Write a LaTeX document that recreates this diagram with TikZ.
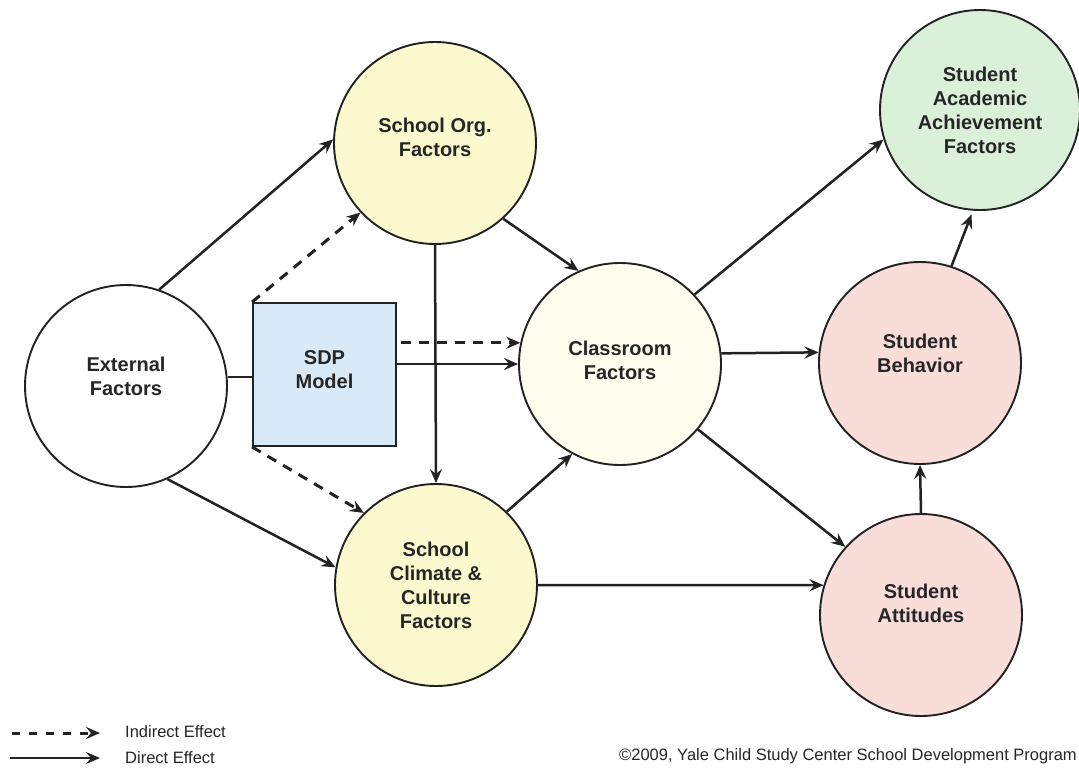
\documentclass[tikz,border=0pt]{standalone}
\usepackage{fontspec}
\setmainfont{Liberation Sans}
\usetikzlibrary{arrows.meta}
\definecolor{linec}{HTML}{222222}
\definecolor{textc}{HTML}{262626}
\definecolor{yelc}{HTML}{FCF9CF}
\definecolor{paleyc}{HTML}{FEFDEE}
\definecolor{greenc}{HTML}{DAF0D9}
\definecolor{pinkc}{HTML}{F8DDD9}
\definecolor{bluec}{HTML}{D8EAF7}
\tikzset{
  circ/.style={circle, draw=linec, line width=1.9pt, minimum size=202pt, inner sep=0pt,
    align=center, font=\fontsize{20}{24}\selectfont\bfseries, text=textc},
  sdpbox/.style={rectangle, draw=linec, line width=1.9pt, fill=bluec, minimum width=143pt,
    minimum height=143pt, inner sep=0pt, align=center,
    font=\fontsize{20}{24}\selectfont\bfseries, text=textc},
  arr/.style={-{Stealth[length=14pt,width=12pt,inset=5pt]}, line width=2.5pt, draw=linec},
  darr/.style={arr, dash pattern=on 10pt off 8pt, line width=3pt},
  plain/.style={line width=2.2pt, draw=linec},
  legtext/.style={anchor=west, font=\fontsize{16.5}{19}\selectfont, text=textc, inner sep=0pt}
}
\begin{document}
\begin{tikzpicture}[x=1pt,y=-1pt]
\useasboundingbox[fill=white] (0,0) rectangle (1079,774);

% nodes
\node[circ, fill=white, text depth=20pt] (ext) at (126,386) {External\\Factors};
\node[circ, fill=yelc, text depth=12pt] (school) at (435,143) {School Org.\\Factors};
\node[circ, fill=paleyc, text depth=8pt] (class) at (620,364) {Classroom\\Factors};
\node[circ, fill=yelc] (clim) at (436,585) {School\\Climate \&\\Culture\\Factors};
\node[circ, fill=greenc, minimum size=200pt] (ach) at (980,110) {Student\\Academic\\Achievement\\Factors};
\node[circ, fill=pinkc, text depth=20pt] (beh) at (920,363) {Student\\Behavior};
\node[circ, fill=pinkc, text depth=24pt] (att) at (921,615) {Student\\Attitudes};
\node[sdpbox, text depth=10pt] (sdp) at (324.5,374.5) {SDP\\Model};

% connectors
\draw[arr] (ext.71) -- (school.178);
\draw[arr] (ext.-66) -- (clim.170);
\draw[plain] (ext.5) -- (ext.5 -| sdp.west);
\draw[darr] (sdp.north west) -- (school.223);
\draw[darr] (sdp.south west) -- (clim.135);
\draw[darr, shorten <=4pt] (sdp.east |- class.168) -- (class.168);
\draw[arr] (sdp.east |- class.west) -- (class.west);
\draw[arr] (school.south) -- (clim.north);
\draw[arr] (school.-48) -- (class.114);
\draw[arr] (clim.46) -- (class.-118);
\draw[arr] (clim.east) -- (att.163);
\draw[arr] (class.43) -- (ach.197);
\draw[arr] (class.6) -- (beh.174);
\draw[arr] (class.-40) -- (att.138);
\draw[arr] (att.north) -- (beh.south);
\draw[arr, shorten >=4pt] (beh.72) -- (ach.-94);

% legend
\coordinate (l1a) at (12,733);
\coordinate (l1b) at (100,733);
\coordinate (l2a) at (10,758);
\coordinate (l2b) at (100,758);
\draw[darr, dash pattern=on 8pt off 9pt] (l1a) -- (l1b);
\draw[arr] (l2a) -- (l2b);
\node[legtext] (lt1) at (125,732) {Indirect Effect};
\node[legtext] (lt2) at (125,758) {Direct Effect};
\node[legtext, anchor=east] (copy) at (1077,756) {©2009, Yale Child Study Center School Development Program};
\end{tikzpicture}
\end{document}
